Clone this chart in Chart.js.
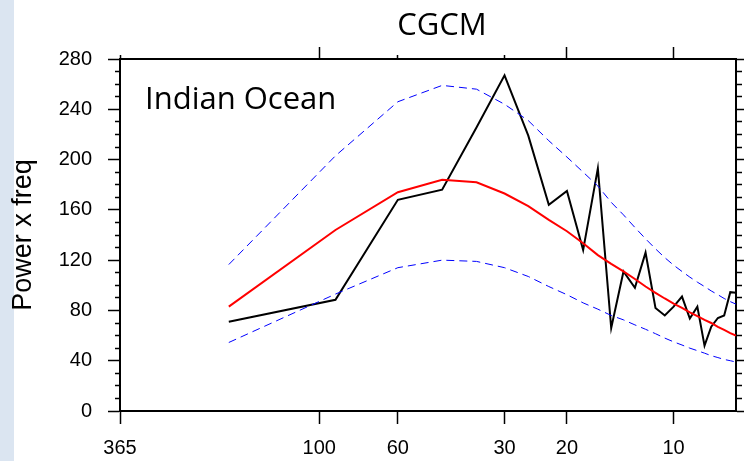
<!DOCTYPE html>
<html>
<head>
<meta charset="utf-8">
<script src="https://cdn.jsdelivr.net/npm/chart.js@4.4.1/dist/chart.umd.min.js"></script>
<style>
  body { margin: 0; background: #fff; }
  #wrap { position: relative; width: 744px; height: 461px; overflow: hidden; }
  #strip { position: absolute; left: 0; top: 0; width: 14px; height: 461px; background: #dbe5f1; }
  #cv { position: absolute; left: 0; top: 0; }
  .lbl { position: absolute; font-family: "Open Sans", sans-serif; font-size: 31px; line-height: 1; color: #000; white-space: nowrap; }
  #title { left: 342px; top: 8px; width: 200px; text-align: center; }
  #region { left: 145px; top: 82px; }
</style>
</head>
<body>
<div id="wrap">
  <div id="strip"></div>
  <canvas id="cv" width="744" height="461"></canvas>
  <div class="lbl" id="title">CGCM</div>
  <div class="lbl" id="region">Indian Ocean</div>
</div>
<script>
// period (days) of each spectral estimate
const periods = [180, 90, 60, 45, 36, 30, 25.71, 22.5, 20, 18, 16.36, 15, 13.85, 12.86,
                 12, 11.25, 10.59, 10, 9.47, 9, 8.57, 8.18, 7.83, 7.5, 7.2, 6.92, 6.667];

// power x freq
const spectrum = [71, 88.5, 168, 176, 225.5, 267, 219, 164, 175, 128, 193, 66, 111, 98,
                  126, 82, 76, 83, 91, 73.5, 83, 52, 67, 74, 76, 94.5, 94];
const redNoise = [83, 144, 174, 184, 182, 173, 163, 152, 143, 133.5, 124, 117, 111, 105,
                  99, 94, 89.5, 85.5, 82, 78.5, 75.5, 72.5, 70, 67, 64.5, 62, 60];
const upperBound = [116.5, 203, 246, 259, 256, 244, 231, 215, 202, 190, 179, 166, 156, 146,
                    137, 129, 122, 116, 111, 106.5, 102.5, 99, 95.5, 92.5, 89.5, 87, 85];
const lowerBound = [54.5, 93, 114, 120, 119, 114, 107, 99, 92.5, 86, 81, 76, 72.5, 68.5,
                    65, 61.5, 58, 55, 52.5, 50, 48, 46, 44, 42.5, 41, 40, 39];

const xTickVals = [365, 100, 60, 30, 20, 10];
const xLongTop = [100, 20, 10];

const pts = arr => periods.map((p, i) => ({ x: p, y: arr[i] }));

const tickFont = { family: 'Liberation Sans', size: 20 };

function logX(position, extra) {
    return Object.assign({
        type: 'logarithmic',
        position: position,
        reverse: true,
        min: 6.667,
        max: 365,
        afterBuildTicks: s => { s.ticks = xTickVals.map(v => ({ value: v })); },
        border: { display: true, color: '#000', width: 2 },
        grid: { drawOnChartArea: false, drawTicks: true, tickLength: 13, tickWidth: 1.5, tickColor: '#000' },
        ticks: { autoSkip: false, maxRotation: 0, color: '#000', font: tickFont, padding: 12,
                 callback: v => String(v) }
    }, extra);
}

function yAxis(position, extra) {
    return Object.assign({
        position: position,
        min: 0,
        max: 280,
        border: { display: true, color: '#000', width: 2 },
        grid: {
            drawOnChartArea: false, drawTicks: true, tickLength: 12, tickWidth: 1.5, tickColor: '#000',
            tickBorderDash: ctx => (ctx.tick && ctx.tick.value % 40 !== 0)
                ? (position === 'left' ? [0, 7, 5] : [5, 20]) : []
        },
        ticks: { stepSize: 10, autoSkip: false, color: '#000', font: tickFont, padding: 16,
                 callback: v => (v % 40 === 0 ? String(v) : '') }
    }, extra);
}

new Chart(document.getElementById('cv').getContext('2d'), {
    type: 'line',
    data: {
        datasets: [
            { data: pts(upperBound), borderColor: '#0000ff', borderWidth: 1, borderDash: [8, 5] },
            { data: pts(lowerBound), borderColor: '#0000ff', borderWidth: 1, borderDash: [8, 5] },
            { data: pts(redNoise), borderColor: '#ff0000', borderWidth: 2 },
            { data: pts(spectrum), borderColor: '#000000', borderWidth: 2 }
        ]
    },
    options: {
        responsive: false,
        animation: false,
        layout: { padding: 0 },
        elements: { point: { radius: 0 }, line: { tension: 0 } },
        plugins: { legend: { display: false }, tooltip: { enabled: false } },
        scales: {
            x: logX('bottom', { afterFit: s => { s.height = 50; } }),
            x2: logX('top', {
                afterFit: s => { s.height = 59; },
                ticks: { display: false },
                grid: { drawOnChartArea: false, drawTicks: true, tickLength: 12, tickWidth: 1.5, tickColor: '#000',
                        tickBorderDash: ctx => (ctx.tick && xLongTop.indexOf(ctx.tick.value) < 0) ? [0, 8, 4] : [] }
            }),
            y: yAxis('left', {
                afterFit: s => { s.width = 120; },
                title: { display: true, text: 'Power x freq', color: '#000',
                         font: { family: 'Liberation Sans', size: 27 }, padding: { top: 7, bottom: 0 } }
            }),
            y2: yAxis('right', {
                afterFit: s => { s.width = 8; },
                ticks: { display: false, stepSize: 10 }
            })
        }
    }
});
</script>
</body>
</html>
